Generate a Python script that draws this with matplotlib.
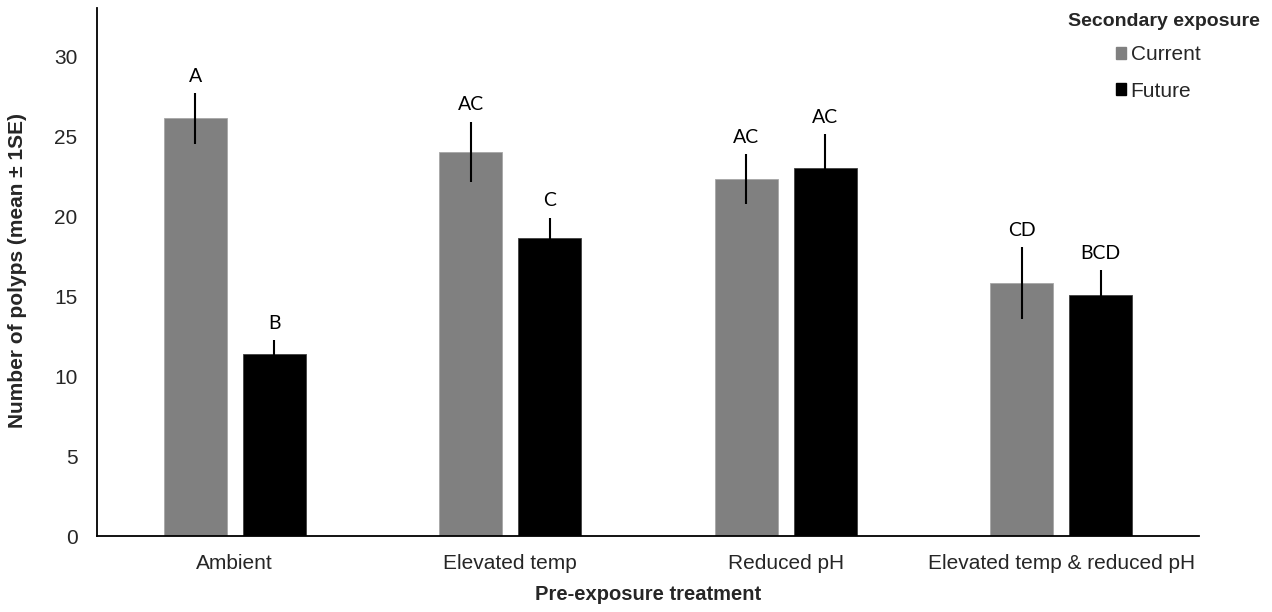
import matplotlib
matplotlib.use("Agg")
import matplotlib.pyplot as plt
import numpy as np
from matplotlib.patches import Patch

plt.rcParams.update({"font.family": "Liberation Sans", "font.size": 15})

# ---- data ----
treatments = ["Ambient", "Elevated temp", "Reduced pH", "Elevated temp & reduced pH"]
series = ["Current", "Future"]
current_mean = [26.1, 24.0, 22.3, 15.8]
current_se = [1.6, 1.9, 1.55, 2.25]
future_mean = [11.4, 18.6, 23.0, 15.05]
future_se = [0.85, 1.3, 2.1, 1.55]
current_letters = ["A", "AC", "AC", "CD"]
future_letters = ["B", "C", "AC", "BCD"]

GREY = "#808080"; BLACK = "#000000"; TXT = "#262626"

fig = plt.figure(figsize=(12.72, 6.12), dpi=100)
ax = fig.add_axes([97/1272, 1-536/612, 1102/1272, 528/612])

x = np.arange(len(treatments))
w = 0.229; off = 0.143
ax.bar(x-off, current_mean, w, color=GREY, edgecolor="#A6A6A6", lw=0.6, zorder=2)
ax.bar(x+off, future_mean, w, color=BLACK, edgecolor="#404040", lw=0.6, zorder=2)
ax.errorbar(x-off, current_mean, yerr=current_se, fmt="none", ecolor="black", elinewidth=1.5, capsize=0, zorder=3)
ax.errorbar(x+off, future_mean, yerr=future_se, fmt="none", ecolor="black", elinewidth=1.5, capsize=0, zorder=3)

# significance letters just above the error bars
for xs, m, s, labs in [(x-off, current_mean, current_se, current_letters),
                       (x+off, future_mean, future_se, future_letters)]:
    for xi, mi, si, l in zip(xs, m, s, labs):
        ax.text(xi, mi+si+0.7, l, ha="center", va="baseline", fontsize=14, family="Lato", color="black")

ax.set_xlim(-0.5, 3.5)
ax.set_ylim(0, 33)
ax.set_yticks(range(0, 31, 5))
ax.set_xticks(x)
ax.set_xticklabels(treatments)
ax.tick_params(axis="both", length=0, labelsize=15, colors=TXT)
ax.tick_params(axis="y", pad=14)
ax.tick_params(axis="x", pad=13)
for s in ["top", "right"]:
    ax.spines[s].set_visible(False)
for s in ["left", "bottom"]:
    ax.spines[s].set_linewidth(1.3); ax.spines[s].set_color("black")

fig.text(18/1272, 1-270/612, "Number of polyps (mean \u00b1 1SE)", rotation=90, ha="center", va="center",
         fontsize=15, fontweight="bold", color=TXT)
fig.text(648/1272, 1-594/612, "Pre-exposure treatment", ha="center", va="center",
         fontsize=14.5, fontweight="bold", color=TXT)

# legend
fig.text(1164/1272, 1-21/612, "Secondary exposure", ha="center", va="center",
         fontsize=14, fontweight="bold", color=TXT)
handles = [Patch(color=GREY), Patch(color=BLACK)]
fig.legend(handles, series, loc="upper left", bbox_to_anchor=(1116/1272, 1-45/612), frameon=False,
           handlelength=0.5, handleheight=0.5, handletextpad=0.2, labelspacing=0.85,
           fontsize=15, borderaxespad=0, borderpad=0, labelcolor=TXT)

plt.savefig("out.png", dpi=100)
